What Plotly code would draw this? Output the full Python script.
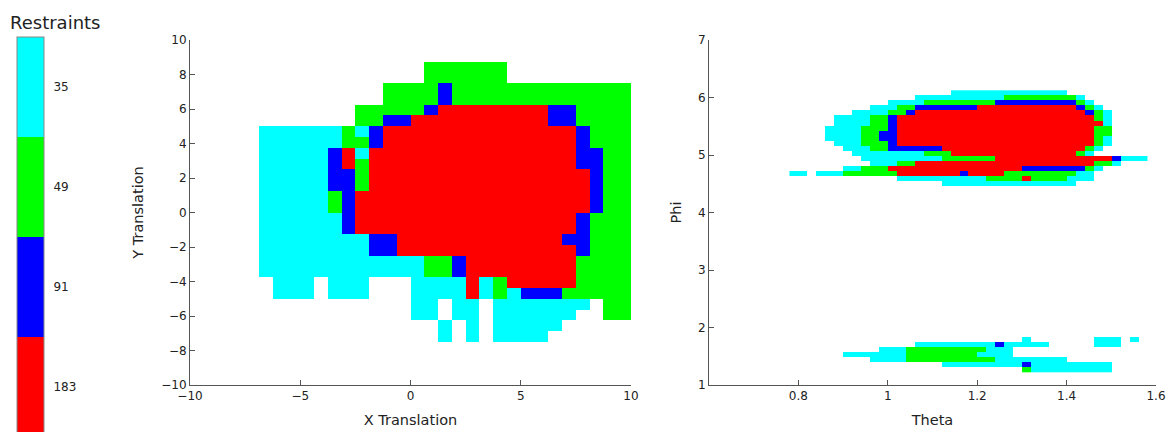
import plotly.graph_objects as go

# ---------------- data ----------------
LEVELS = [183, 91, 49, 35]                      # restraint counts (colorbar bottom -> top)
LEVEL_CODES = ["r", "b", "g", "c"]
LEVEL_COLORS = ["#ff0000", "#0000ff", "#00ff00", "#00ffff"]
COLORBAR_TITLE = "Restraints"

# Left panel: translation grid, bins of 0.625 from -10 to 10
XY_START = -10.0
XY_STEP = 0.625
XY_NBINS = 32
TRANS_TOP_ROW = 29          # row index (from bottom) of the first string below
TRANS_ROWS = [
    ".................gggggg.........",
    ".................gggggg.........",
    "..............ggggbggggggggggggg",
    "..............ggggbggggggggggggg",
    "............gggggbrrrrrrrrbbgggg",
    "............ggbbrrrrrrrrrrbbgggg",
    ".....ccccccgcbrrrrrrrrrrrrrrbggg",
    ".....ccccccggbrrrrrrrrrrrrrrbggg",
    ".....cccccbrcrrrrrrrrrrrrrrrbbgg",
    ".....cccccbrgrrrrrrrrrrrrrrrbbgg",
    ".....cccccbbgrrrrrrrrrrrrrrrrbgg",
    ".....cccccbbgrrrrrrrrrrrrrrrrbgg",
    ".....cccccgbrrrrrrrrrrrrrrrrrbgg",
    ".....cccccgbrrrrrrrrrrrrrrrrrbgg",
    ".....ccccccbrrrrrrrrrrrrrrrrbggg",
    ".....ccccccbrrrrrrrrrrrrrrrrbggg",
    ".....ccccccccbbrrrrrrrrrrrrbbggg",
    ".....ccccccccbbrrrrrrrrrrrrrbggg",
    ".....ccccccccccccggbrrrrrrrrgggg",
    ".....ccccccccccccggbrrrrrrrrgggg",
    "......ccc.ccc...ccccrcgrrrrrgggg",
    "......ccc.ccc...ccccrcgcbbbggggg",
    "................cc.cc.ccccccc.gg",
    "................cc.cc.cccccc..gg",
    "..................c.c.ccccc.....",
    "..................c.c.cccc......",
]

# Right panel: orientation grid
THETA_START = 0.78
THETA_STEP = 0.02
THETA_NBINS = 40
PHI_TOP = 6.125
PHI_STEP = 0.0875
PHI_NROWS = 56
ORIENT_UPPER_START = 0
ORIENT_UPPER_ROWS = [
    "..................ccccccccccccc.........",
    "..............ccccccccccggggggggc.......",
    "...........ccccggggggggbbbbbbbbbgc......",
    ".........cccggbbbbbbbrrrrrrrrrrrbgc.....",
    ".......ccccggbrrrrrrrrrrrrrrrrrrrbgc....",
    ".....ccccggbrrrrrrrrrrrrrrrrrrrrrrgc....",
    ".....ccccggbrrrrrrrrrrrrrrrrrrrrrrrc....",
    "....ccccgggbrrrrrrrrrrrrrrrrrrrrrrgg....",
    "....ccccggbbrrrrrrrrrrrrrrrrrrrrrrgg....",
    "....ccccggbbrrrrrrrrrrrrrrrrrrrrrrgc....",
    ".....cccgggbrrrrrrrrrrrrrrrrrrrrrrgc....",
    "......cccggbbbbbbrrrrrrrrrrrrrrrrgc.....",
    ".......ccccccccgggrrrrrrrrrrrrrrgc......",
    "........cccccccccggggggrrrrrrrrrrrrrbccc",
    ".........cccggrrrrrrrrrrrrrrrrrrrrggc...",
    "......ccgggrrrrrrrrrrrrrrrbbbbbbbgc.....",
    "cc.cccggggggrrrrrrrbrrrrggggggggcc......",
    "............ccccccccccggggrggggccc......",
    ".................ccccccccccccccc........",
]
ORIENT_LOWER_START = 49
ORIENT_LOWER_ROWS = [
    "..........................c.......ccc.c.",
    "..............cccccccccbccccc.....ccc...",
    "..........cccgggggggggccc...............",
    "......cccccccggggggggcccc...............",
    ".........ccccggggggggggcccccccc.........",
    ".................cccccccccbccccccccc....",
    "..........................gccccccccc....",
]

# ---------------- build grids ----------------
code_to_z = {c: i for i, c in enumerate(LEVEL_CODES)}

def row_values(s, n):
    s = (s + "." * n)[:n]
    return [code_to_z.get(ch) for ch in s]

xy_centers = [XY_START + XY_STEP * (i + 0.5) for i in range(XY_NBINS)]
z_left = [[None] * XY_NBINS for _ in range(XY_NBINS)]
for k, s in enumerate(TRANS_ROWS):
    z_left[TRANS_TOP_ROW - k] = row_values(s, XY_NBINS)

theta_centers = [THETA_START + THETA_STEP * (j + 0.5) for j in range(THETA_NBINS)]
phi_centers = [PHI_TOP - PHI_STEP * (k + 0.5) for k in range(PHI_NROWS)]
z_right = [[None] * THETA_NBINS for _ in range(PHI_NROWS)]
for k, s in enumerate(ORIENT_UPPER_ROWS):
    z_right[ORIENT_UPPER_START + k] = row_values(s, THETA_NBINS)
for k, s in enumerate(ORIENT_LOWER_ROWS):
    z_right[ORIENT_LOWER_START + k] = row_values(s, THETA_NBINS)

n = len(LEVELS)
colorscale = []
for i, col in enumerate(LEVEL_COLORS):
    colorscale.append([i / n, col])
    colorscale.append([(i + 1) / n, col])

W, H = 1169, 432
FONT = "DejaVu Sans, Verdana, sans-serif"
AX_COLOR = "#555555"
TXT = "#222222"

fig = go.Figure()
fig.add_trace(go.Heatmap(
    x=xy_centers, y=xy_centers, z=z_left,
    zmin=-0.5, zmax=n - 0.5, colorscale=colorscale,
    xaxis="x", yaxis="y", hoverongaps=False,
    colorbar=dict(
        x=17 / W, xanchor="left", xpad=0,
        y=1 - 37 / H, yanchor="top", ypad=0,
        len=400, lenmode="pixels", thickness=27, thicknessmode="pixels",
        outlinecolor="#888888", outlinewidth=1,
        tickvals=list(range(n)), ticktext=[str(v) for v in LEVELS],
        ticks="outside", ticklen=7, tickcolor="rgba(0,0,0,0)",
        tickfont=dict(size=12, color=TXT, family=FONT),
    ),
))
fig.add_trace(go.Heatmap(
    x=theta_centers, y=phi_centers, z=z_right,
    zmin=-0.5, zmax=n - 0.5, colorscale=colorscale, showscale=False,
    xaxis="x2", yaxis="y2", hoverongaps=False,
))

def ax(domain, rng, tickvals, title, anchor, standoff):
    return dict(
        domain=domain, range=rng, tickvals=tickvals, anchor=anchor,
        showline=True, linecolor=AX_COLOR, linewidth=1, mirror=False,
        ticks="inside", ticklen=5, tickcolor=AX_COLOR,
        showgrid=False, zeroline=False, automargin=False,
        tickfont=dict(size=12, color=TXT, family=FONT),
        title=dict(text=title, font=dict(size=14.5, color=TXT, family=FONT), standoff=standoff),
    )

ydom = [1 - 385 / H, 1 - 40 / H]
fig.update_layout(
    width=W, height=H,
    margin=dict(l=0, r=0, t=0, b=0, autoexpand=False),
    paper_bgcolor="white", plot_bgcolor="white",
    showlegend=False,
    xaxis=ax([190 / W, 631 / W], [-10, 10], [-10, -5, 0, 5, 10], "X Translation", "y", 12),
    yaxis=ax(ydom, [-10, 10], list(range(-10, 11, 2)), "Y Translation", "x", 14),
    xaxis2=ax([709 / W, 1156 / W], [0.6, 1.6], [0.8, 1.0, 1.2, 1.4, 1.6], "Theta", "y2", 12),
    yaxis2=ax(ydom, [1, 7], [1, 2, 3, 4, 5, 6, 7], "Phi", "x2", 12),
    annotations=[dict(
        text=COLORBAR_TITLE, xref="paper", yref="paper",
        x=8 / W, y=1 - 22 / H, xanchor="left", yanchor="middle",
        showarrow=False, font=dict(size=18, color=TXT, family=FONT),
    )],
)
fig.update_xaxes(tickformat="~g")

fig.write_html("out.html")
